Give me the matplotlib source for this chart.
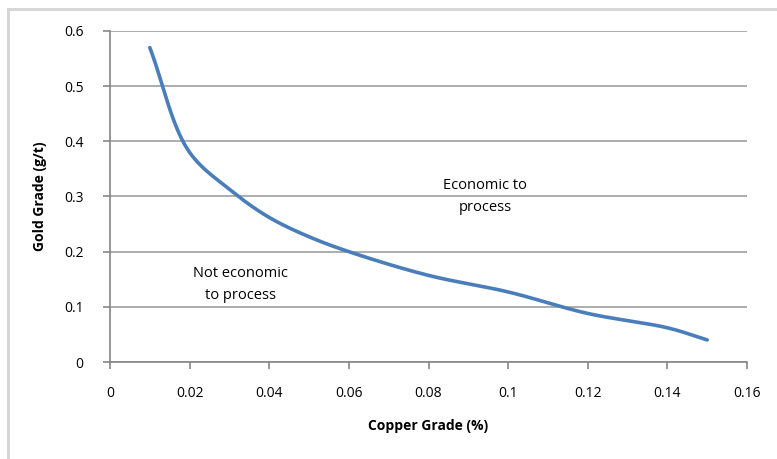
import matplotlib.pyplot as plt
from matplotlib.lines import Line2D
import numpy as np

# Values
copper_grade = [0.01, 0.02, 0.03, 0.04, 0.05, 0.06, 0.08, 0.10, 0.12, 0.14, 0.15]
gold_grade = [0.57, 0.38, 0.313, 0.262, 0.227, 0.20, 0.157, 0.127, 0.088, 0.062, 0.04]
x_ticks = [0, 0.02, 0.04, 0.06, 0.08, 0.1, 0.12, 0.14, 0.16]
x_tick_labels = ["0", "0.02", "0.04", "0.06", "0.08", "0.1", "0.12", "0.14", "0.16"]
y_ticks = [0, 0.1, 0.2, 0.3, 0.4, 0.5, 0.6]
y_tick_labels = ["0", "0.1", "0.2", "0.3", "0.4", "0.5", "0.6"]


def smooth(xs, ys, sx=0.16, sy=0.6, n=40, alpha=0.5):
    # centripetal Catmull-Rom, close to Excel's "smoothed line"
    p = np.column_stack([np.asarray(xs) / sx, np.asarray(ys) / sy])
    p = np.vstack([p[0] * 2 - p[1], p, p[-1] * 2 - p[-2]])
    out = []
    for i in range(1, len(p) - 2):
        p0, p1, p2, p3 = p[i - 1], p[i], p[i + 1], p[i + 2]
        t0 = 0.0
        t1 = t0 + np.linalg.norm(p1 - p0) ** alpha
        t2 = t1 + np.linalg.norm(p2 - p1) ** alpha
        t3 = t2 + np.linalg.norm(p3 - p2) ** alpha
        t = np.linspace(t1, t2, n)[:, None]
        a1 = (t1 - t) / (t1 - t0) * p0 + (t - t0) / (t1 - t0) * p1
        a2 = (t2 - t) / (t2 - t1) * p1 + (t - t1) / (t2 - t1) * p2
        a3 = (t3 - t) / (t3 - t2) * p2 + (t - t2) / (t3 - t2) * p3
        b1 = (t2 - t) / (t2 - t0) * a1 + (t - t0) / (t2 - t0) * a2
        b2 = (t3 - t) / (t3 - t1) * a2 + (t - t1) / (t3 - t1) * a3
        out.append((t2 - t) / (t2 - t1) * b1 + (t - t1) / (t2 - t1) * b2)
    out = np.vstack(out)
    return out[:, 0] * sx, out[:, 1] * sy


plt.rcParams['font.family'] = ['Open Sans', 'DejaVu Sans']

fig = plt.figure(figsize=(7.77, 4.59), dpi=100)
ax = fig.add_axes([110 / 777, 1 - 362 / 459, 637 / 777, 331 / 459])

cx, cy = smooth(copper_grade, gold_grade)
ax.plot(cx, cy, color='#4a7ebb', lw=2.6, solid_capstyle='round', zorder=3)

ax.set_xlim(0, 0.16)
ax.set_ylim(0, 0.6)
ax.set_xticks(x_ticks)
ax.set_xticklabels(x_tick_labels)
ax.set_yticks(y_ticks)
ax.set_yticklabels(y_tick_labels)
ax.yaxis.grid(True, color='#a0a0a0', lw=1.2)
ax.set_axisbelow(True)

for s in ['top', 'right']:
    ax.spines[s].set_visible(False)
for s in ['left', 'bottom']:
    ax.spines[s].set_color('#868686')
    ax.spines[s].set_linewidth(1.2)
ax.tick_params(axis='both', colors='#868686', length=5, width=1.2, labelcolor='black', labelsize=10)
ax.tick_params(axis='x', pad=12)
ax.tick_params(axis='y', pad=14)

ax.set_xlabel('Copper Grade (%)', fontsize=10, fontweight='bold', labelpad=13)
ax.set_ylabel('Gold Grade (g/t)', fontsize=10, fontweight='bold', labelpad=12)

ax.text(0.0942, 0.300, 'Economic to\nprocess', ha='center', va='center', fontsize=10.5, linespacing=1.65)
ax.text(0.0327, 0.141, 'Not economic\nto process', ha='center', va='center', fontsize=10.5, linespacing=1.6)

# chart-area border (left and top visible)
fig.add_artist(Line2D([7.5 / 777, 7.5 / 777], [0, 1 - 9 / 459], transform=fig.transFigure,
                      color='#d4d4d4', lw=2))
fig.add_artist(Line2D([7.5 / 777, 1], [1 - 9 / 459, 1 - 9 / 459], transform=fig.transFigure,
                      color='#d4d4d4', lw=2))

fig.savefig('out.png', dpi=100)
